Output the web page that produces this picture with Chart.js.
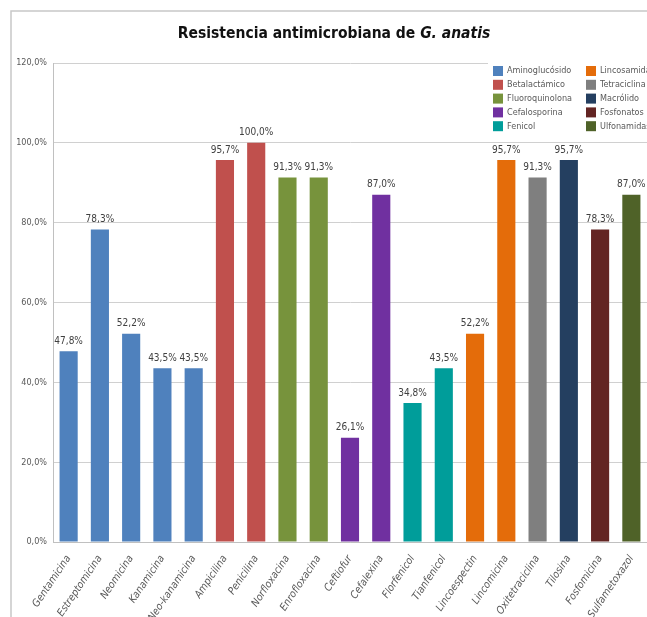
<!DOCTYPE html>
<html>
<head>
<meta charset="utf-8">
<script src="https://cdn.jsdelivr.net/npm/chart.js@4.4.0/dist/chart.umd.min.js"></script>
<style>
  html, body { margin: 0; padding: 0; background: #fff; }
  #wrap { width: 647px; height: 617px; position: relative; }
</style>
</head>
<body>
<div id="wrap"><canvas id="myChart" width="647" height="617"></canvas></div>
<script>
// Antibiotics (categories) and resistance values in %
const drugs = ['Gentamicina', 'Estreptomicina', 'Neomicina', 'Kanamicina', 'Neo-kanamicina',
  'Ampicilina', 'Penicilina', 'Norfloxacina', 'Enrofloxacina', 'Ceftiofur', 'Cefalexina',
  'Florfenicol', 'Tianfenicol', 'Lincoespectin', 'Lincomicina', 'Oxitetraciclina',
  'Tilosina', 'Fosfomicina', 'Sulfametoxazol'];
const resistance = [47.8, 78.3, 52.2, 43.5, 43.5, 95.7, 100.0, 91.3, 91.3, 26.1, 87.0,
  34.8, 43.5, 52.2, 95.7, 91.3, 95.7, 78.3, 87.0];
// group index of every drug
const drugGroup = [0, 0, 0, 0, 0, 1, 1, 2, 2, 3, 3, 4, 4, 5, 5, 6, 7, 8, 9];

// antibiotic families (legend)
const groups = ['Aminoglucósido', 'Betalactámico', 'Fluoroquinolona', 'Cefalosporina', 'Fenicol',
  'Lincosamida', 'Tetraciclina', 'Macrólido', 'Fosfonatos', 'Ulfonamidas'];
const groupColors = ['#4f81bd', '#c0504d', '#77933c', '#7030a0', '#009d9a',
  '#e46c0a', '#7f7f7f', '#243f60', '#632523', '#4f6228'];

// y axis ticks
const yMax = 120;
const yStep = 20;

const fmt = v => v.toFixed(1).replace('.', ',') + '%';

// outer frame + custom title
const framePlugin = {
  id: 'frame',
  beforeDraw(chart) {
    const c = chart.ctx;
    c.save();
    c.fillStyle = '#fff';
    c.fillRect(0, 0, chart.width, chart.height);
    c.strokeStyle = '#c8c8c8';
    c.lineWidth = 1.5;
    c.beginPath();
    c.moveTo(11, chart.height);
    c.lineTo(11, 11);
    c.lineTo(chart.width, 11);
    c.stroke();
    c.restore();
  },
  afterDraw(chart) {
    const c = chart.ctx;
    c.save();
    const part1 = 'Resistencia antimicrobiana de ';
    const part2 = 'G. anatis';
    const f1 = 'bold 15.5px "Liberation Sans Narrow", "DejaVu Sans Condensed", sans-serif';
    const f2 = 'italic bold 15.5px "Liberation Sans Narrow", "DejaVu Sans Condensed", sans-serif';
    c.font = f1;
    const w1 = c.measureText(part1).width;
    c.font = f2;
    const w2 = c.measureText(part2).width;
    const cx = 334;
    let x = cx - (w1 + w2) / 2;
    c.fillStyle = '#111';
    c.textBaseline = 'middle';
    c.textAlign = 'left';
    c.font = f1;
    c.fillText(part1, x, 34);
    c.font = f2;
    c.fillText(part2, x + w1, 34);
    c.restore();
  }
};

// value labels above the bars
const valueLabels = {
  id: 'valueLabels',
  afterDatasetsDraw(chart) {
    const c = chart.ctx;
    const meta = chart.getDatasetMeta(0);
    c.save();
    c.font = '10px "DejaVu Sans Condensed", sans-serif';
    c.fillStyle = '#404040';
    c.textAlign = 'center';
    c.textBaseline = 'bottom';
    meta.data.forEach((bar, i) => {
      c.fillText(fmt(resistance[i]), bar.x, bar.y - 5);
    });
    c.restore();
  }
};

// two column legend in the upper right corner
const groupLegend = {
  id: 'groupLegend',
  afterDraw(chart) {
    const c = chart.ctx;
    c.save();
    c.fillStyle = '#fff';
    c.fillRect(488, 62, 160, 74);
    c.font = '9px "DejaVu Sans Condensed", sans-serif';
    c.textBaseline = 'middle';
    c.textAlign = 'left';
    groups.forEach((g, i) => {
      const col = Math.floor(i / 5);
      const row = i % 5;
      const x = col === 0 ? 493 : 586;
      const y = 71 + row * 13.8;
      c.fillStyle = groupColors[i];
      c.fillRect(x, y - 5, 10, 10);
      c.fillStyle = '#595959';
      c.fillText(g, x + 14, y);
    });
    c.restore();
  }
};

const ctx = document.getElementById('myChart').getContext('2d');
const chart = new Chart(ctx, {
  type: 'bar',
  data: {
    labels: drugs,
    datasets: [{
      data: resistance,
      backgroundColor: drugGroup.map(g => groupColors[g]),
      barPercentage: 0.58,
      categoryPercentage: 1.0
    }]
  },
  options: {
    responsive: false,
    animation: false,
    layout: { padding: { top: 63, left: 10, right: 0, bottom: 0 } },
    scales: {
      y: {
        min: 0,
        max: yMax,
        ticks: {
          stepSize: yStep,
          callback: v => fmt(v),
          color: '#595959',
          font: { family: '"DejaVu Sans Condensed", sans-serif', size: 9 },
          padding: 6
        },
        grid: { color: '#d0d0d0', drawTicks: false },
        border: { color: '#c0c0c0' },
        afterFit(axis) { axis.width = 43; }
      },
      x: {
        ticks: {
          minRotation: 56,
          maxRotation: 56,
          autoSkip: false,
          color: '#595959',
          font: { family: '"DejaVu Sans Condensed", sans-serif', size: 10.5, style: 'italic' }
        },
        grid: { display: false },
        border: { color: '#c0c0c0' },
        afterFit(axis) { axis.height = 75; }
      }
    },
    plugins: {
      legend: { display: false },
      title: { display: false },
      tooltip: { enabled: false }
    }
  },
  plugins: [framePlugin, valueLabels, groupLegend]
});
</script>
</body>
</html>
